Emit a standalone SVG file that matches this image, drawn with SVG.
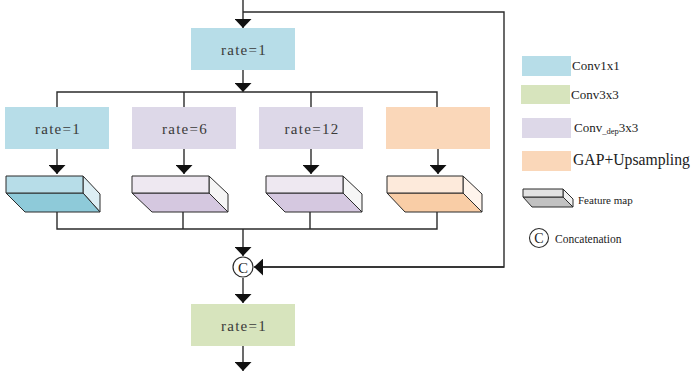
<svg xmlns="http://www.w3.org/2000/svg" width="691" height="372" viewBox="0 0 691 372">
<style>
.ln{stroke:#2b2b2b;stroke-width:1.4;fill:none}
.arr{marker-end:url(#ah)}
.bt{font-family:"Liberation Serif","Times New Roman",serif;font-size:15px;letter-spacing:1.3px;fill:#3a3a3a;text-anchor:middle}
.lg{font-family:"Liberation Serif","Times New Roman",serif;fill:#222}
.blue{fill:#B7DDE8}.green{fill:#D7E4BD}.purple{fill:#DDD8E8}.peach{fill:#FAD7B9}
.fe{stroke:#2b2b2b;stroke-width:1;stroke-linejoin:round}
</style>
<defs>
<marker id="ah" viewBox="0 0 9 17" refX="9" refY="8.5" markerWidth="9" markerHeight="17" orient="auto" markerUnits="userSpaceOnUse">
<path d="M0,0 L9,8.5 L0,17 z" fill="#111"/>
</marker>
</defs>

<g id="connectors">
<path class="ln arr" d="M243,0 V28"/>
<path class="ln" d="M243,12 H504 V267 H263"/>
<path class="ln arr" d="M504,267 H254"/>
<path class="ln arr" d="M243,70 V92"/>
<path class="ln" d="M57,107 V92 H437 V107 M184,92 V107 M311,92 V107"/>
<path class="ln arr" d="M57,149 V174"/>
<path class="ln arr" d="M184,149 V174"/>
<path class="ln arr" d="M311,149 V174"/>
<path class="ln arr" d="M438,149 V174"/>
<path class="ln" d="M57,212 V229 H437 V212 M183,212 V229 M310,212 V229"/>
<path class="ln arr" d="M243,229 V256"/>
<path class="ln arr" d="M243,278 V303"/>
<path class="ln arr" d="M243,346 V371"/>
</g>

<g id="node-top">
<rect class="blue" x="191" y="28" width="104" height="42"/>
<text class="bt" x="244" y="55">rate=1</text>
</g>

<g id="node-b1">
<rect class="blue" x="5" y="107" width="104" height="42"/>
<text class="bt" x="58" y="134">rate=1</text>
</g>
<g id="node-b2">
<rect class="purple" x="132" y="107" width="104" height="42"/>
<text class="bt" x="185" y="134">rate=6</text>
</g>
<g id="node-b3">
<rect class="purple" x="259" y="107" width="104" height="42"/>
<text class="bt" x="312" y="134">rate=12</text>
</g>
<g id="node-b4">
<rect class="peach" x="386" y="107" width="104" height="42"/>
</g>

<g id="fmap1">
<polygon class="fe" fill="#DCEEF4" points="83,176 100,194 100,212 83,193"/>
<polygon class="fe" fill="#8ECAD9" points="6,193 83,193 100,212 25,212"/>
<rect class="fe" fill="#B7DDE8" x="6" y="176" width="77" height="17"/>
</g>
<g id="fmap2">
<polygon class="fe" fill="#F6F6F6" points="209,176 228,194 228,212 209,193"/>
<polygon class="fe" fill="#D5C8E0" points="132,193 209,193 228,212 152,212"/>
<rect class="fe" fill="#EEE8F1" x="132" y="176" width="77" height="17"/>
</g>
<g id="fmap3">
<polygon class="fe" fill="#F6F6F6" points="343,176 362,194 362,212 343,193"/>
<polygon class="fe" fill="#D5C8E0" points="266,193 343,193 362,212 285,212"/>
<rect class="fe" fill="#EEE8F1" x="266" y="176" width="77" height="17"/>
</g>
<g id="fmap4">
<polygon class="fe" fill="#FEF4EC" points="463,176 482,194 482,212 463,193"/>
<polygon class="fe" fill="#F9CDA6" points="387,193 463,193 482,212 405,212"/>
<rect class="fe" fill="#FDEADB" x="387" y="176" width="76" height="17"/>
</g>

<g id="concat">
<circle cx="243" cy="267" r="10" fill="#fff" stroke="#2b2b2b" stroke-width="1.2"/>
<text x="243" y="272.5" font-family="Liberation Serif,serif" font-size="15" text-anchor="middle" fill="#222">C</text>
</g>

<g id="node-bottom">
<rect class="green" x="191" y="304" width="104" height="42"/>
<text class="bt" x="244" y="331">rate=1</text>
</g>

<g id="legend">
<rect class="blue" x="522" y="56" width="49" height="20"/>
<text class="lg" x="572" y="70" style="font-size:13px">Conv1x1</text>
<rect class="green" x="521" y="85" width="49" height="19"/>
<text class="lg" x="571" y="99" style="font-size:13px">Conv3x3</text>
<rect class="purple" x="522" y="118" width="49" height="20"/>
<text class="lg" x="574" y="132" style="font-size:13px">Conv<tspan style="font-size:8.5px" dy="2">_dep</tspan><tspan dy="-2">3x3</tspan></text>
<rect class="peach" x="522" y="151" width="49" height="20"/>
<text class="lg" x="573" y="165" style="font-size:15.7px">GAP+Upsampling</text>
<polygon class="fe" fill="#F0F0F0" points="563,189 573,199 573,207 563,197"/>
<polygon class="fe" fill="#C2C2C2" points="523,197 563,197 573,207 532,207"/>
<rect class="fe" fill="#E2E2E2" x="523" y="189" width="40" height="8"/>
<text class="lg" x="578" y="204" style="font-size:11px">Feature map</text>
<circle cx="539" cy="238" r="9.5" fill="#fff" stroke="#2b2b2b" stroke-width="1.1"/>
<text x="539" y="243" font-family="Liberation Serif,serif" font-size="14" text-anchor="middle" fill="#222">C</text>
<text class="lg" x="555" y="243" style="font-size:11.5px">Concatenation</text>
</g>
</svg>
